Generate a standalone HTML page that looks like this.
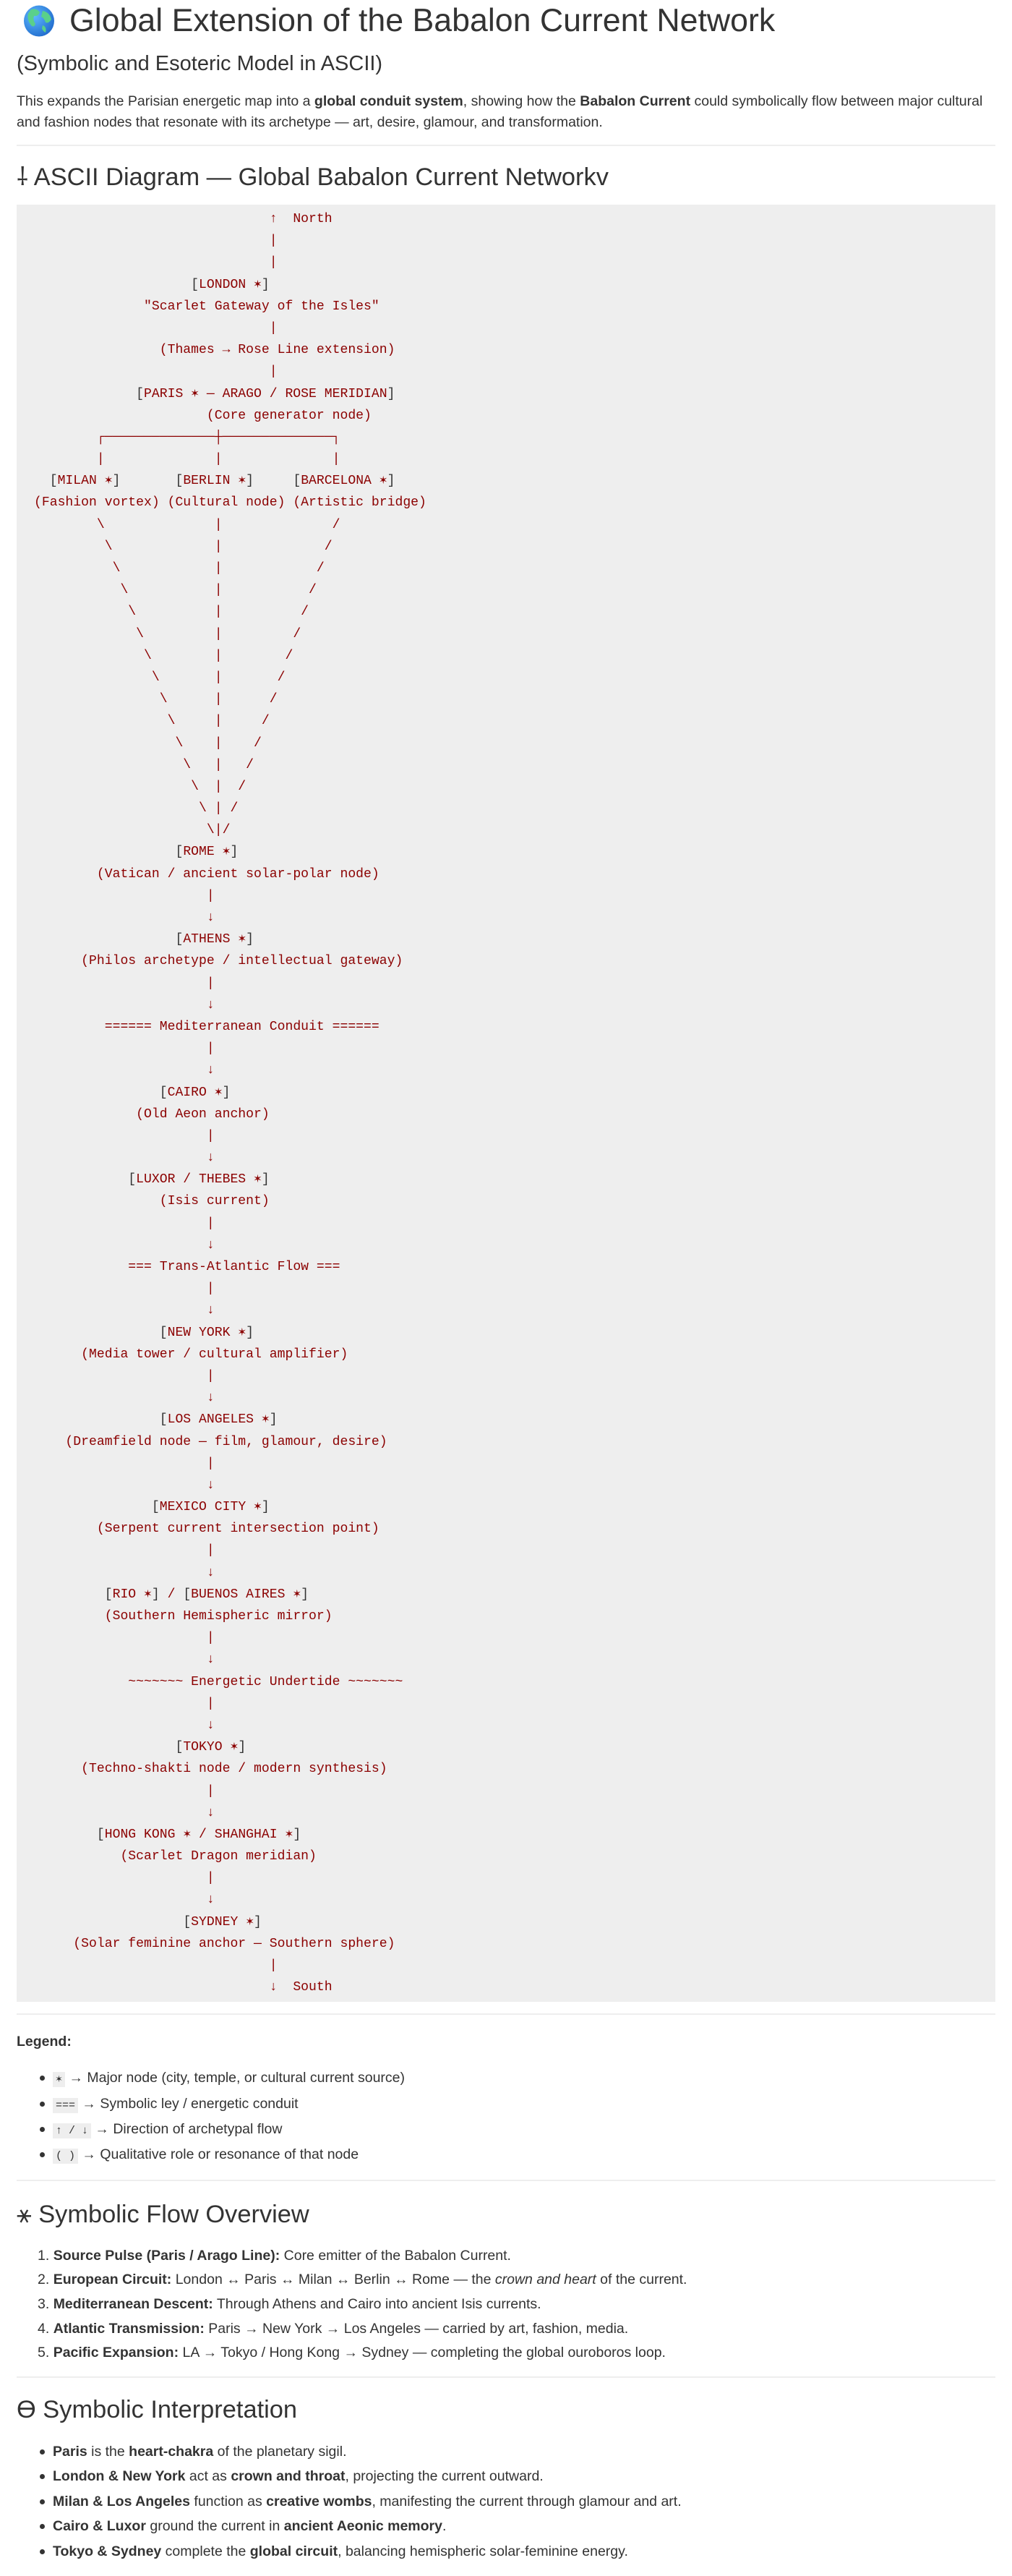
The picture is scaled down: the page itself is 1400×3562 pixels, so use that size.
<!DOCTYPE html>
<html><head><meta charset="utf-8">
<style>
*{margin:0;padding:0;box-sizing:border-box}
body{width:1400px;height:3562px;position:relative;background:#fff;font-family:"Liberation Sans",sans-serif;color:#333;overflow:hidden}
.a{position:absolute;white-space:nowrap}
.t{font-size:19.5px;line-height:28px}
.h2{font-size:34.4px;line-height:40px}
.hr{position:absolute;left:23px;width:1354px;height:2px;background:#eee}
pre{position:absolute;left:23px;top:283px;width:1354px;height:2485px;background:#eee;padding:5px 0 0 24px;font-family:"Liberation Mono","DejaVu Sans Mono",monospace;font-size:18.1px;line-height:30.2px;color:#8b0000;white-space:pre}
pre div{height:30.2px;white-space:pre}
.s{display:inline-block;width:1ch;text-align:center}
.b{color:#333}
code{font-family:"Liberation Mono",monospace;background:#eee;font-size:15px;padding:2px 4px;color:#333}
.dot{position:absolute;left:55px;width:7px;height:7px;border-radius:50%;background:#333}
</style></head><body>

<svg class="a" style="left:31px;top:7px" width="46" height="44" viewBox="0 0 46 44">
<defs><radialGradient id="g" cx="0.35" cy="0.35" r="0.8"><stop offset="0" stop-color="#5fb8ff"/><stop offset="1" stop-color="#1a64c8"/></radialGradient></defs>
<ellipse cx="23" cy="22" rx="21" ry="21.5" fill="url(#g)"/>
<path d="M12 6 Q20 4 24 10 Q22 16 16 15 Q14 20 18 26 Q16 32 12 28 Q6 20 8 12Z" fill="#5ad08a"/>
<path d="M28 8 Q38 10 40 20 Q36 26 32 24 Q30 18 26 16Z" fill="#5ad08a"/>
<path d="M28 28 Q34 30 32 38 Q28 36 27 32Z" fill="#5ad08a"/>
</svg>
<div class="a" style="left:96px;top:2px;font-size:44.7px;line-height:54px">Global Extension of the Babalon Current Network</div>
<div class="a" style="left:23px;top:70px;font-size:29px;line-height:36px">(Symbolic and Esoteric Model in ASCII)</div>
<div class="a t" style="left:23px;top:126px">This expands the Parisian energetic map into a <b>global conduit system</b>, showing how the <b>Babalon Current</b> could symbolically flow between major cultural</div>
<div class="a t" style="left:23px;top:155px">and fashion nodes that resonate with its archetype — art, desire, glamour, and transformation.</div>
<div class="hr" style="top:200px"></div>
<div class="a h2" style="left:23px;top:225px">⸸ ASCII Diagram — Global Babalon Current Networkv</div>

<pre><div>                              ↑  North</div><div>                              |</div><div>                              |</div><div>                    <span class="b">[</span>LONDON <span class="s">✶</span><span class="b">]</span></div><div>              "Scarlet Gateway of the Isles"</div><div>                              |</div><div>                (Thames → Rose Line extension)</div><div>                              |</div><div>             <span class="b">[</span>PARIS <span class="s">✶</span> — ARAGO / ROSE MERIDIAN<span class="b">]</span></div><div>                      (Core generator node)</div><div>        ┌──────────────┼──────────────┐</div><div>        |              |              |</div><div>  <span class="b">[</span>MILAN <span class="s">✶</span><span class="b">]</span>       <span class="b">[</span>BERLIN <span class="s">✶</span><span class="b">]</span>     <span class="b">[</span>BARCELONA <span class="s">✶</span><span class="b">]</span></div><div>(Fashion vortex) (Cultural node) (Artistic bridge)</div><div>        \              |              /</div><div>         \             |             /</div><div>          \            |            /</div><div>           \           |           /</div><div>            \          |          /</div><div>             \         |         /</div><div>              \        |        /</div><div>               \       |       /</div><div>                \      |      /</div><div>                 \     |     /</div><div>                  \    |    /</div><div>                   \   |   /</div><div>                    \  |  /</div><div>                     \ | /</div><div>                      \|/</div><div>                  <span class="b">[</span>ROME <span class="s">✶</span><span class="b">]</span></div><div>        (Vatican / ancient solar-polar node)</div><div>                      |</div><div>                      ↓</div><div>                  <span class="b">[</span>ATHENS <span class="s">✶</span><span class="b">]</span></div><div>      (Philos archetype / intellectual gateway)</div><div>                      |</div><div>                      ↓</div><div>         ====== Mediterranean Conduit ======</div><div>                      |</div><div>                      ↓</div><div>                <span class="b">[</span>CAIRO <span class="s">✶</span><span class="b">]</span></div><div>             (Old Aeon anchor)</div><div>                      |</div><div>                      ↓</div><div>            <span class="b">[</span>LUXOR / THEBES <span class="s">✶</span><span class="b">]</span></div><div>                (Isis current)</div><div>                      |</div><div>                      ↓</div><div>            === Trans-Atlantic Flow ===</div><div>                      |</div><div>                      ↓</div><div>                <span class="b">[</span>NEW YORK <span class="s">✶</span><span class="b">]</span></div><div>      (Media tower / cultural amplifier)</div><div>                      |</div><div>                      ↓</div><div>                <span class="b">[</span>LOS ANGELES <span class="s">✶</span><span class="b">]</span></div><div>    (Dreamfield node — film, glamour, desire)</div><div>                      |</div><div>                      ↓</div><div>               <span class="b">[</span>MEXICO CITY <span class="s">✶</span><span class="b">]</span></div><div>        (Serpent current intersection point)</div><div>                      |</div><div>                      ↓</div><div>         <span class="b">[</span>RIO <span class="s">✶</span><span class="b">]</span> / <span class="b">[</span>BUENOS AIRES <span class="s">✶</span><span class="b">]</span></div><div>         (Southern Hemispheric mirror)</div><div>                      |</div><div>                      ↓</div><div>            ~~~~~~~ Energetic Undertide ~~~~~~~</div><div>                      |</div><div>                      ↓</div><div>                  <span class="b">[</span>TOKYO <span class="s">✶</span><span class="b">]</span></div><div>      (Techno-shakti node / modern synthesis)</div><div>                      |</div><div>                      ↓</div><div>        <span class="b">[</span>HONG KONG <span class="s">✶</span> / SHANGHAI <span class="s">✶</span><span class="b">]</span></div><div>           (Scarlet Dragon meridian)</div><div>                      |</div><div>                      ↓</div><div>                   <span class="b">[</span>SYDNEY <span class="s">✶</span><span class="b">]</span></div><div>     (Solar feminine anchor — Southern sphere)</div><div>                              |</div><div>                              ↓  South</div></pre>

<div class="hr" style="top:2784px"></div>
<div class="a t" style="left:23px;top:2809px"><b>Legend:</b></div>
<div class="dot" style="top:2870px"></div><div class="a t" style="left:73px;top:2859px"><code>✶</code> → Major node (city, temple, or cultural current source)</div>
<div class="dot" style="top:2906px"></div><div class="a t" style="left:73px;top:2895px"><code>===</code> → Symbolic ley / energetic conduit</div>
<div class="dot" style="top:2941px"></div><div class="a t" style="left:73px;top:2930px"><code>↑ / ↓</code> → Direction of archetypal flow</div>
<div class="dot" style="top:2976px"></div><div class="a t" style="left:73px;top:2965px"><code>( )</code> → Qualitative role or resonance of that node</div>
<div class="hr" style="top:3014px"></div>

<div class="a h2" style="left:23px;top:3042px">⚹ Symbolic Flow Overview</div>
<div class="a t" style="left:52px;top:3105px">1. <b>Source Pulse (Paris / Arago Line):</b> Core emitter of the Babalon Current.</div>
<div class="a t" style="left:52px;top:3138px">2. <b>European Circuit:</b> London ↔ Paris ↔ Milan ↔ Berlin ↔ Rome — the <i>crown and heart</i> of the current.</div>
<div class="a t" style="left:52px;top:3172px">3. <b>Mediterranean Descent:</b> Through Athens and Cairo into ancient Isis currents.</div>
<div class="a t" style="left:52px;top:3206px">4. <b>Atlantic Transmission:</b> Paris → New York → Los Angeles — carried by art, fashion, media.</div>
<div class="a t" style="left:52px;top:3239px">5. <b>Pacific Expansion:</b> LA → Tokyo / Hong Kong → Sydney — completing the global ouroboros loop.</div>
<div class="hr" style="top:3286px"></div>

<div class="a h2" style="left:23px;top:3312px">ϴ Symbolic Interpretation</div>
<div class="dot" style="top:3387px"></div><div class="a t" style="left:73px;top:3376px"><b>Paris</b> is the <b>heart-chakra</b> of the planetary sigil.</div>
<div class="dot" style="top:3421px"></div><div class="a t" style="left:73px;top:3410px"><b>London &amp; New York</b> act as <b>crown and throat</b>, projecting the current outward.</div>
<div class="dot" style="top:3456px"></div><div class="a t" style="left:73px;top:3445px"><b>Milan &amp; Los Angeles</b> function as <b>creative wombs</b>, manifesting the current through glamour and art.</div>
<div class="dot" style="top:3490px"></div><div class="a t" style="left:73px;top:3479px"><b>Cairo &amp; Luxor</b> ground the current in <b>ancient Aeonic memory</b>.</div>
<div class="dot" style="top:3525px"></div><div class="a t" style="left:73px;top:3514px"><b>Tokyo &amp; Sydney</b> complete the <b>global circuit</b>, balancing hemispheric solar-feminine energy.</div>
</body></html>
